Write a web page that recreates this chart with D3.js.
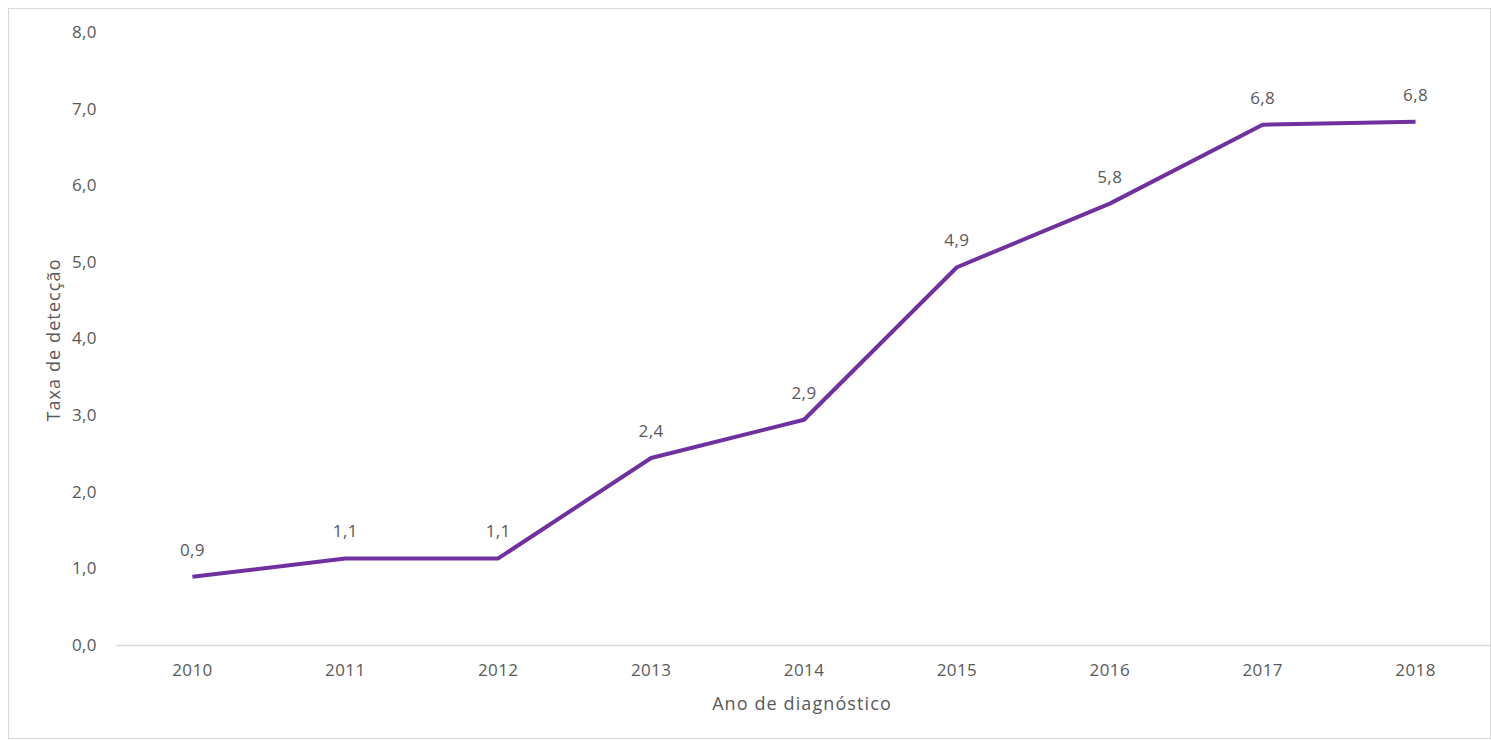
<!DOCTYPE html>
<html>
<head>
<meta charset="utf-8">
<script src="https://cdn.jsdelivr.net/npm/d3@7"></script>
<style>
  html, body { margin: 0; padding: 0; background: #fff; }
  svg { display: block; }
  text { font-family: "Open Sans", "Noto Sans", sans-serif; fill: #595959; }
</style>
</head>
<body>
<svg id="chart" width="1491" height="740"></svg>
<script>
// Taxa de detecção por ano de diagnóstico
const anos = ["2010", "2011", "2012", "2013", "2014", "2015", "2016", "2017", "2018"];
const taxas = [0.89, 1.13, 1.13, 2.44, 2.94, 4.93, 5.76, 6.79, 6.83];
const yTicks = [0, 1, 2, 3, 4, 5, 6, 7, 8];

const svg = d3.select("#chart");
const W = 1491, H = 740;

// outer frame
svg.append("rect")
  .attr("x", 8.5).attr("y", 8.5)
  .attr("width", W - 9).attr("height", H - 10)
  .attr("fill", "#fff").attr("stroke", "#d9d9d9").attr("stroke-width", 1);

const x = d3.scaleBand().domain(anos).range([116, 1492]);
const y = d3.scaleLinear().domain([0, 8]).range([645, 32]);
const fmt = v => d3.format(".1f")(v).replace(".", ",");

const labelStyle = sel => sel
  .style("font-size", "17px")
  .style("letter-spacing", "0.4px")
  .attr("font-family", null)
  .attr("fill", "#595959");

// y axis labels (no line)
const yAxis = d3.axisLeft(y).tickValues(yTicks).tickFormat(fmt).tickSize(0).tickPadding(19);
const gy = svg.append("g").attr("transform", "translate(116,0)").call(yAxis);
gy.select(".domain").remove();
gy.selectAll("text").call(labelStyle);

// x axis
const xAxis = d3.axisBottom(x).tickSize(0).tickPadding(19);
const gx = svg.append("g").attr("transform", "translate(0,645)").call(xAxis);
gx.select(".domain").attr("stroke", "#d9d9d9").attr("stroke-width", 1.3);
gx.selectAll("text").call(labelStyle);

// line
const line = d3.line()
  .x((d, i) => x(anos[i]) + x.bandwidth() / 2)
  .y(d => y(d));

svg.append("path")
  .datum(taxas)
  .attr("d", line)
  .attr("fill", "none")
  .attr("stroke", "#7030a0")
  .attr("stroke-width", 4)
  .attr("stroke-linejoin", "round");

// data labels
svg.append("g").selectAll("text")
  .data(taxas)
  .join("text")
  .attr("x", (d, i) => x(anos[i]) + x.bandwidth() / 2)
  .attr("y", d => y(d) - 21)
  .attr("text-anchor", "middle")
  .call(labelStyle)
  .text(d => fmt(d));

// axis titles
svg.append("text")
  .attr("x", 802)
  .attr("y", 710)
  .attr("text-anchor", "middle")
  .style("font-size", "18px")
  .style("letter-spacing", "1.1px")
  .text("Ano de diagnóstico");

svg.append("text")
  .attr("transform", "translate(60,340) rotate(-90)")
  .attr("text-anchor", "middle")
  .style("font-size", "18px")
  .style("letter-spacing", "1.1px")
  .text("Taxa de detecção");
</script>
</body>
</html>
